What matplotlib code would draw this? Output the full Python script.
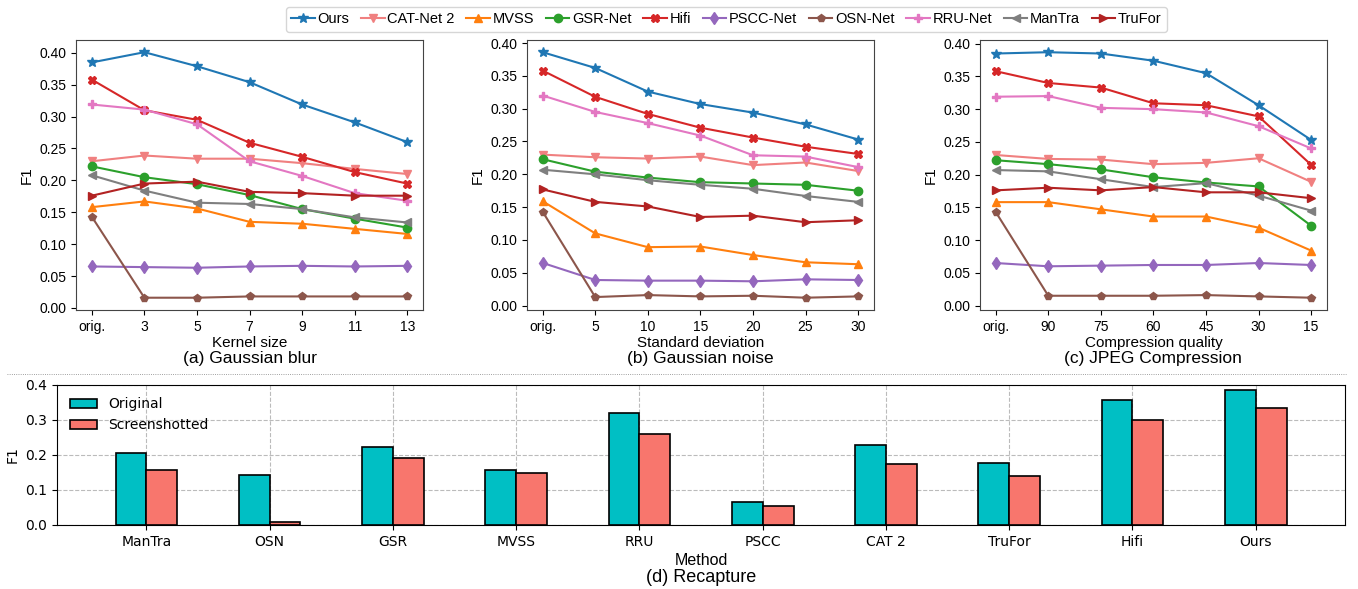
import matplotlib
matplotlib.use("Agg")
import matplotlib.pyplot as plt
from matplotlib.lines import Line2D
import numpy as np

methods = ["Ours", "CAT-Net 2", "MVSS", "GSR-Net", "Hifi", "PSCC-Net",
           "OSN-Net", "RRU-Net", "ManTra", "TruFor"]
markers = ["*", "v", "^", "o", "X", "d", "p", "P", "<", ">"]
colors = ["tab:blue", "lightcoral", "tab:orange", "tab:green", "tab:red",
          "tab:purple", "tab:brown", "tab:pink", "tab:gray", "firebrick"]

# (a) Gaussian blur
blur_ticks = ["orig.", "3", "5", "7", "9", "11", "13"]
blur = {
    "Ours":      [0.385, 0.401, 0.379, 0.354, 0.319, 0.291, 0.260],
    "CAT-Net 2": [0.230, 0.239, 0.234, 0.234, 0.227, 0.218, 0.210],
    "MVSS":      [0.158, 0.167, 0.156, 0.135, 0.132, 0.124, 0.116],
    "GSR-Net":   [0.222, 0.205, 0.194, 0.177, 0.155, 0.140, 0.126],
    "Hifi":      [0.358, 0.310, 0.295, 0.259, 0.237, 0.213, 0.195],
    "PSCC-Net":  [0.065, 0.064, 0.063, 0.065, 0.066, 0.065, 0.066],
    "OSN-Net":   [0.143, 0.016, 0.016, 0.018, 0.018, 0.018, 0.018],
    "RRU-Net":   [0.319, 0.311, 0.288, 0.230, 0.207, 0.180, 0.168],
    "ManTra":    [0.208, 0.184, 0.165, 0.163, 0.155, 0.142, 0.134],
    "TruFor":    [0.176, 0.195, 0.198, 0.182, 0.180, 0.176, 0.176],
}

# (b) Gaussian noise
noise_ticks = ["orig.", "5", "10", "15", "20", "25", "30"]
noise = {
    "Ours":      [0.386, 0.362, 0.326, 0.307, 0.294, 0.276, 0.253],
    "CAT-Net 2": [0.230, 0.226, 0.224, 0.227, 0.214, 0.218, 0.205],
    "MVSS":      [0.159, 0.110, 0.089, 0.090, 0.077, 0.066, 0.063],
    "GSR-Net":   [0.223, 0.204, 0.195, 0.188, 0.186, 0.184, 0.175],
    "Hifi":      [0.358, 0.318, 0.292, 0.271, 0.256, 0.242, 0.231],
    "PSCC-Net":  [0.065, 0.039, 0.038, 0.038, 0.037, 0.040, 0.039],
    "OSN-Net":   [0.143, 0.013, 0.016, 0.014, 0.015, 0.012, 0.014],
    "RRU-Net":   [0.320, 0.295, 0.278, 0.259, 0.229, 0.227, 0.211],
    "ManTra":    [0.207, 0.200, 0.191, 0.184, 0.178, 0.167, 0.158],
    "TruFor":    [0.177, 0.158, 0.151, 0.135, 0.137, 0.127, 0.130],
}

# (c) JPEG compression
jpeg_ticks = ["orig.", "90", "75", "60", "45", "30", "15"]
jpeg = {
    "Ours":      [0.385, 0.387, 0.385, 0.374, 0.355, 0.306, 0.253],
    "CAT-Net 2": [0.230, 0.224, 0.223, 0.216, 0.218, 0.225, 0.189],
    "MVSS":      [0.158, 0.158, 0.147, 0.136, 0.136, 0.119, 0.084],
    "GSR-Net":   [0.222, 0.216, 0.208, 0.196, 0.188, 0.182, 0.122],
    "Hifi":      [0.358, 0.340, 0.333, 0.309, 0.306, 0.289, 0.215],
    "PSCC-Net":  [0.065, 0.060, 0.061, 0.062, 0.062, 0.065, 0.062],
    "OSN-Net":   [0.143, 0.015, 0.015, 0.015, 0.016, 0.014, 0.012],
    "RRU-Net":   [0.319, 0.320, 0.302, 0.300, 0.295, 0.274, 0.240],
    "ManTra":    [0.207, 0.205, 0.193, 0.181, 0.187, 0.168, 0.145],
    "TruFor":    [0.176, 0.180, 0.176, 0.181, 0.173, 0.173, 0.164],
}

# (d) Recapture
recap_methods = ["ManTra", "OSN", "GSR", "MVSS", "RRU", "PSCC", "CAT 2",
                 "TruFor", "Hifi", "Ours"]
recap_original = [0.207, 0.143, 0.222, 0.158, 0.319, 0.065, 0.229, 0.176, 0.358, 0.385]
recap_screen = [0.156, 0.008, 0.192, 0.148, 0.260, 0.055, 0.175, 0.140, 0.301, 0.335]

arial = "Liberation Sans"
fig = plt.figure(figsize=(13.58, 5.89), dpi=100)

panels = [
    (blur, blur_ticks, "Kernel size", "(a) Gaussian blur", 0.056),
    (noise, noise_ticks, "Standard deviation", "(b) Gaussian noise", 0.388),
    (jpeg, jpeg_ticks, "Compression quality", "(c) JPEG Compression", 0.7216),
]

handles = []
for data, ticks, xlabel, title, left in panels:
    ax = fig.add_axes([left, 0.4737, 0.2555, 0.4585])
    x = np.arange(len(ticks))
    handles = []
    for m, mk, c in zip(methods, markers, colors):
        ms = 7 if mk == "*" else 6
        h, = ax.plot(x, data[m], marker=mk, color=c, lw=1.5, ms=ms, label=m)
        handles.append(h)
    ax.set_xticks(x)
    ax.set_xticklabels(ticks)
    ax.set_yticks(np.arange(0, 0.41, 0.05))
    ax.set_yticklabels([f"{v:.2f}" for v in np.arange(0, 0.41, 0.05)])
    for lab in ax.get_xticklabels() + ax.get_yticklabels():
        lab.set_fontfamily(arial)
        lab.set_fontsize(10)
    ax.set_xlabel(xlabel, fontfamily=arial, fontsize=11, labelpad=2)
    ax.set_ylabel("F1", fontfamily=arial, fontsize=11)
    for s in ax.spines.values():
        s.set_color("#444444")
    cx = left + 0.2555 / 2
    fig.text(cx, 1 - 359 / 589, title, ha="center", va="center",
             fontfamily=arial, fontsize=12.5)

leg = fig.legend(handles, methods, loc="upper center", ncol=10,
                 bbox_to_anchor=(0.535, 1.0), prop={"family": arial, "size": 10.5},
                 handlelength=1.6, columnspacing=0.8, handletextpad=0.2,
                 borderpad=0.35, frameon=True)

# separator line
fig.add_artist(Line2D([0.005, 0.991], [1 - 374 / 589, 1 - 374 / 589],
                      color="gray", lw=0.6, ls=":"))

# (d) recapture bars
axb = fig.add_axes([0.042, 0.1087, 0.9485, 0.2377])
xb = np.arange(len(recap_methods))
w = 0.25
axb.bar(xb - w / 2, recap_original, w, color="#00BFC4", edgecolor="black",
        lw=1.2, label="Original", zorder=3)
axb.bar(xb + w / 2, recap_screen, w, color="#F8766D", edgecolor="black",
        lw=1.2, label="Screenshotted", zorder=3)
axb.set_ylim(0, 0.4)
axb.set_yticks([0, 0.1, 0.2, 0.3, 0.4])
axb.set_xticks(xb)
axb.set_xticklabels(recap_methods, fontsize=10)
axb.tick_params(axis="y", labelsize=10)
axb.grid(True, ls="--", color="#bbbbbb", lw=0.8, zorder=0)
axb.set_ylabel("F1", fontsize=10)
axb.set_xlabel("Method", fontfamily=arial, fontsize=11.5, labelpad=3)
axb.legend(loc="upper left", frameon=False, fontsize=10)
fig.text(0.042 + 0.9485 / 2, 1 - 577 / 589, "(d) Recapture", ha="center",
         va="center", fontfamily=arial, fontsize=13)

fig.savefig("out.png", dpi=100)
